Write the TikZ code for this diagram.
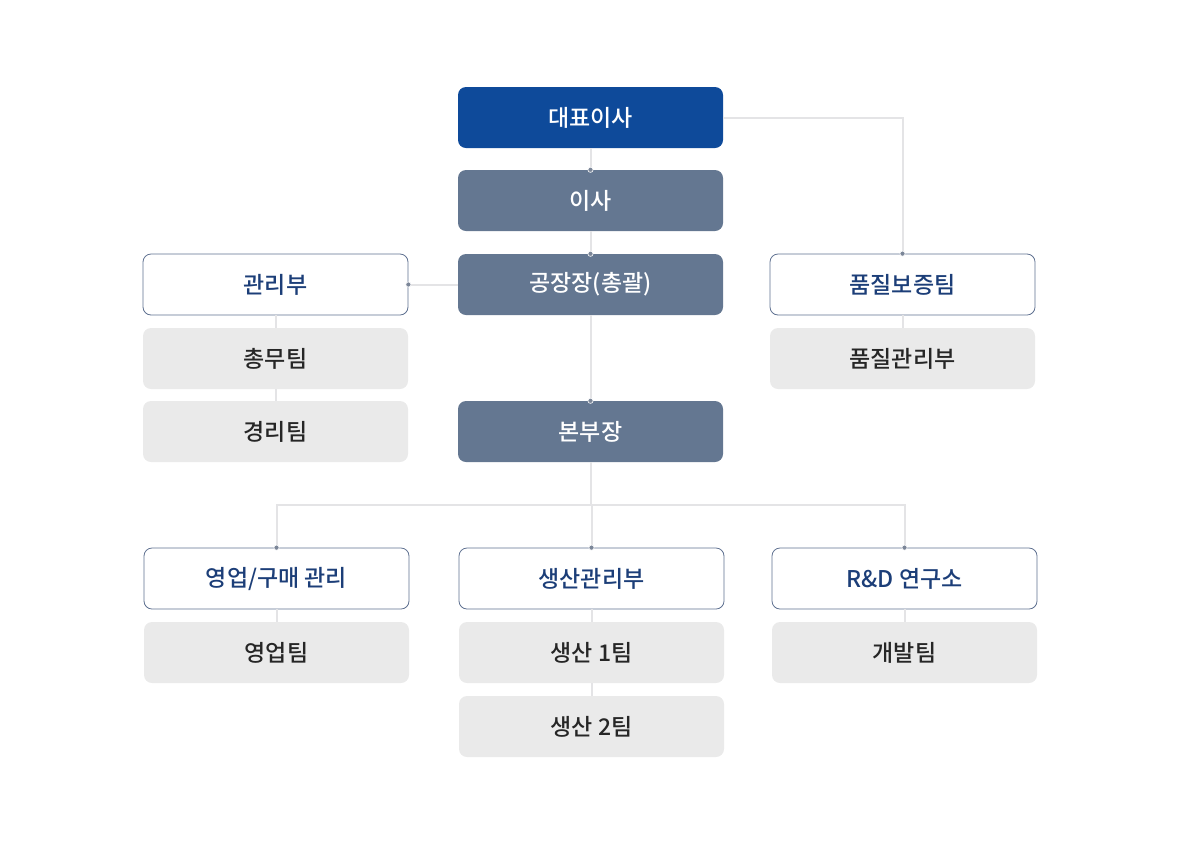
\documentclass[tikz,border=0pt]{standalone}
\usepackage{fontspec}
\setmainfont{Noto Sans CJK KR}[UprightFont={* Medium}]
\definecolor{ceoblue}{HTML}{0E4A9A}
\definecolor{slate}{HTML}{647791}
\definecolor{framec}{HTML}{5E7090}
\definecolor{labelc}{HTML}{1C3E78}
\definecolor{teamc}{HTML}{EAEAEA}
\definecolor{wirec}{HTML}{E4E4E6}
\definecolor{dotc}{HTML}{7B8698}

\begin{document}
\begin{tikzpicture}[x=1pt,y=-1pt,
  box/.style={rounded corners=8pt, minimum width=265pt, minimum height=61pt,
    inner sep=0pt, font=\fontsize{23}{27}\selectfont},
  topbox/.style={box, fill=ceoblue, text=white},
  headbox/.style={box, fill=slate, text=white},
  deptbox/.style={box, draw=framec, line width=0.8pt, fill=white, text=labelc},
  teambox/.style={box, fill=teamc, text=black!85},
  wire/.style={draw=wirec, line width=2pt},
  joint/.style={fill=dotc, draw=white, line width=0.6pt}]
  \useasboundingbox (0,0) rectangle (1180,847);

  % centre column
  \node [topbox]  (ceo)     at (590.5,117.5) {대표이사};
  \node [headbox] (isa)     at (590.5,200.5) {이사};
  \node [headbox] (factory) at (590.5,284.5) {공장장(총괄)};
  \node [headbox] (hq)      at (590.5,431.5) {본부장};

  % left and right branches
  \node [deptbox] (admin)   at (275.5,284.5) {관리부};
  \node [teambox] (general) at (275.5,358.5) {총무팀};
  \node [teambox] (account) at (275.5,431.5) {경리팀};
  \node [deptbox] (qa)      at (902.5,284.5) {품질보증팀};
  \node [teambox] (qc)      at (902.5,358.5) {품질관리부};

  % bottom row
  \node [deptbox] (sales)   at (276.5,578.5) {영업/구매 관리};
  \node [teambox] (salest)  at (276.5,652.5) {영업팀};
  \node [deptbox] (prod)    at (591.5,578.5) {생산관리부};
  \node [teambox] (prod1)   at (591.5,652.5) {생산 1팀};
  \node [teambox] (prod2)   at (591.5,726.5) {생산 2팀};
  \node [deptbox] (rnd)     at (904.5,578.5) {R\&D 연구소};
  \node [teambox] (dev)     at (904.5,652.5) {개발팀};

  \coordinate (bus) at (590.5,505);

  % connectors
  \draw [wire] (ceo.south) -- (isa.north);
  \draw [wire] (isa.south) -- (factory.north);
  \draw [wire] (factory.south) -- (hq.north);
  \draw [wire] (factory.west) -- (admin.east);
  \draw [wire] (ceo.east) -| (qa.north);
  \draw [wire] (admin.south) -- (general.north);
  \draw [wire] (general.south) -- (account.north);
  \draw [wire] (qa.south) -- (qc.north);
  \draw [wire] (hq.south) -- (bus);
  \draw [wire] (sales.north) |- (bus) -| (rnd.north);
  \draw [wire] (bus) -| (prod.north);
  \draw [wire] (sales.south) -- (salest.north);
  \draw [wire] (prod.south) -- (prod1.north);
  \draw [wire] (prod1.south) -- (prod2.north);
  \draw [wire] (rnd.south) -- (dev.north);

  % joints
  \foreach \p in {isa.north, factory.north, hq.north, admin.east, qa.north,
                  sales.north, prod.north, rnd.north}
    \filldraw [joint] (\p) circle (2.6);
\end{tikzpicture}
\end{document}
